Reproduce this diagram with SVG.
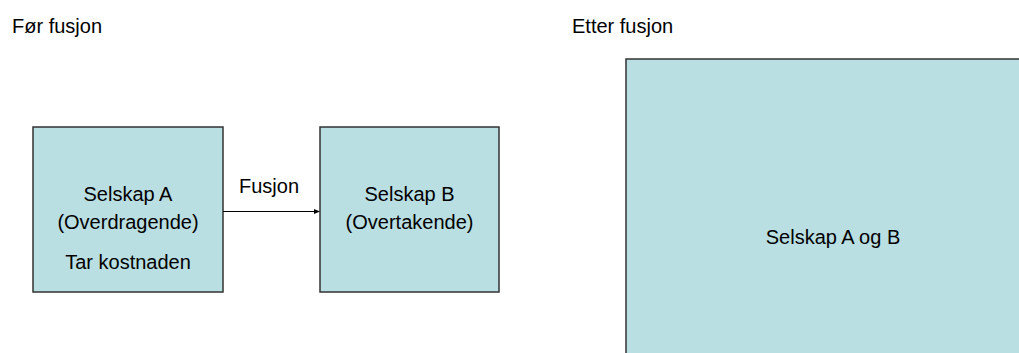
<svg xmlns="http://www.w3.org/2000/svg" width="1019" height="353" viewBox="0 0 1019 353">
  <style>
    .box { fill: #badfe2; stroke: #333333; stroke-width: 1.5; }
    text { font-family: "Liberation Sans", Arial, sans-serif; font-size: 20px; fill: #000000; }
    .mid { text-anchor: middle; }
    .link { stroke: #000000; stroke-width: 1; fill: none; }
  </style>
  <defs>
    <marker id="arrowhead" markerWidth="6" markerHeight="6" refX="5" refY="3" orient="auto" markerUnits="userSpaceOnUse">
      <path d="M0,0.5 L6,3 L0,5.5 Z" fill="#000000"/>
    </marker>
  </defs>

  <text x="12" y="33">Før fusjon</text>
  <text x="572" y="33">Etter fusjon</text>

  <g id="selskap-a">
    <rect class="box" x="33" y="127" width="190" height="165"/>
    <text class="mid" x="128" y="201">Selskap A</text>
    <text class="mid" x="128" y="229">(Overdragende)</text>
    <text class="mid" x="128" y="269">Tar kostnaden</text>
  </g>

  <g id="selskap-b">
    <rect class="box" x="320" y="127" width="179" height="165"/>
    <text class="mid" x="409.5" y="201">Selskap B</text>
    <text class="mid" x="409.5" y="229">(Overtakende)</text>
  </g>

  <g id="selskap-ab">
    <rect class="box" x="626" y="59" width="420" height="360"/>
    <text class="mid" x="833" y="244">Selskap A og B</text>
  </g>

  <g id="connectors">
    <line class="link" x1="223" y1="211.5" x2="319" y2="211.5" marker-end="url(#arrowhead)"/>
    <text class="mid" x="269" y="193">Fusjon</text>
  </g>
</svg>
